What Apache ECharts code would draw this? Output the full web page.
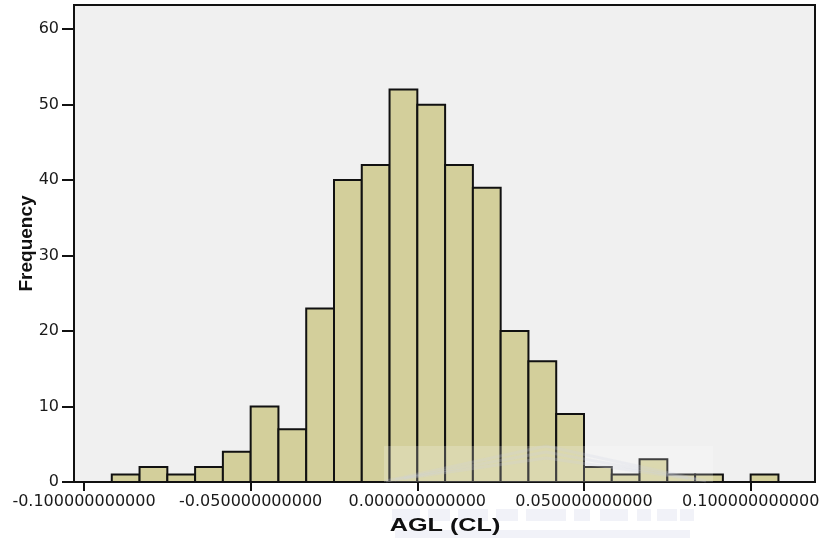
<!DOCTYPE html>
<html>
<head>
<meta charset="utf-8">
<title>AGL (CL) histogram</title>
<script src="https://cdn.jsdelivr.net/npm/echarts@6/dist/echarts.min.js"></script>
<style>
  html, body { margin: 0; padding: 0; background: #ffffff; }
  #chart { width: 823px; height: 543px; }
</style>
</head>
<body>
<div id="chart"></div>
<script>
// Histogram of AGL (CL): bins of width 1/120 starting at -11/120
const binWidth = 1 / 120;
const firstBinIndex = -11;
const frequencies = [1, 2, 1, 2, 4, 10, 7, 23, 40, 42, 52, 50, 42, 39, 20, 16, 9, 2, 1, 3, 1, 1, 0, 1];

// Axis ticks
const xTickValues = [-0.1, -0.05, 0, 0.05, 0.1];
const yTickValues = [0, 10, 20, 30, 40, 50, 60];

const xAxisTitle = 'AGL (CL)';
const yAxisTitle = 'Frequency';

// [lower edge, upper edge, count] for each bin
const binData = frequencies.map((count, i) => {
  const lo = (firstBinIndex + i) * binWidth;
  return [lo, lo + binWidth, count];
});

const chart = echarts.init(document.getElementById('chart'), null, { renderer: 'canvas' });

const labelFont = 'DejaVu Sans';

// Faint building emblem printed across the lower part of the page
const emblem = [];
emblem.push({ type: 'rect', z: 50, shape: { x: 384, y: 446, width: 329, height: 36 },
  style: { fill: 'rgba(255,255,255,0.2)' }, silent: true });
[0, 6, 12].forEach(d => {
  emblem.push({ type: 'polyline', z: 51,
    shape: { points: [[386 + d * 1.5, 481 - d * 0.2], [546, 446 + d], [706 - d * 1.5, 481 - d * 0.2]] },
    style: { stroke: 'rgba(205,208,228,0.22)', lineWidth: 3, fill: null }, silent: true });
});
[[392, 28], [428, 22], [458, 30], [496, 22], [526, 40], [574, 16], [600, 28], [637, 14], [657, 20], [680, 14]].forEach(([x, w]) => {
  emblem.push({ type: 'rect', z: 1, shape: { x: x, y: 509, width: w, height: 12 },
    style: { fill: 'rgba(200,204,228,0.26)' }, silent: true });
});
emblem.push({ type: 'rect', z: 1, shape: { x: 395, y: 530, width: 295, height: 8 },
  style: { fill: 'rgba(200,204,228,0.26)' }, silent: true });

chart.setOption({
  animation: false,
  backgroundColor: '#ffffff',
  grid: {
    left: 74, right: 8, top: 5, bottom: 61,
    show: true,
    backgroundColor: '#f0f0f0',
    borderColor: '#111111',
    borderWidth: 2
  },
  xAxis: {
    type: 'value',
    min: -0.103,
    max: 0.1193,
    splitLine: { show: false },
    axisLine: { show: true, onZero: false, lineStyle: { color: '#111111', width: 2 } },
    axisTick: {
      show: true, length: 9, inside: false,
      customValues: xTickValues,
      lineStyle: { color: '#111111', width: 2 }
    },
    axisLabel: {
      customValues: xTickValues,
      margin: 12,
      color: '#1a1a1a',
      fontFamily: labelFont,
      fontSize: 16,
      formatter: v => v.toFixed(12)
    }
  },
  yAxis: {
    type: 'value',
    min: 0,
    max: 63.2,
    name: yAxisTitle,
    nameLocation: 'middle',
    nameGap: 38,
    nameMoveOverlap: false,
    nameTextStyle: {
      fontFamily: 'Liberation Sans',
      fontWeight: 'bold',
      fontSize: 19,
      color: '#111111'
    },
    splitLine: { show: false },
    axisLine: { show: true, onZero: false, lineStyle: { color: '#111111', width: 2 } },
    axisTick: {
      show: true, length: 12,
      customValues: yTickValues,
      lineStyle: { color: '#111111', width: 2 }
    },
    axisLabel: {
      customValues: yTickValues,
      margin: 15,
      color: '#1a1a1a',
      fontFamily: labelFont,
      fontSize: 16
    }
  },
  series: [{
    type: 'custom',
    data: binData,
    encode: { x: [0, 1], y: 2 },
    clip: true,
    renderItem: function (params, api) {
      const topLeft = api.coord([api.value(0), api.value(2)]);
      const bottomRight = api.coord([api.value(1), 0]);
      const h = bottomRight[1] - topLeft[1];
      if (h <= 0) return null;
      return {
        type: 'rect',
        shape: { x: topLeft[0], y: topLeft[1], width: bottomRight[0] - topLeft[0], height: h },
        style: { fill: '#d3cf9b', stroke: '#111111', lineWidth: 2 }
      };
    }
  }],
  graphic: emblem.concat([
    {
      type: 'text', z: 60,
      x: 445, y: 526,
      scaleX: 1.4,
      style: {
        text: xAxisTitle,
        x: 0, y: 0,
        align: 'center',
        verticalAlign: 'middle',
        font: 'bold 18px "Liberation Sans"',
        fill: '#111111'
      }
    }
  ])
});
</script>
</body>
</html>
